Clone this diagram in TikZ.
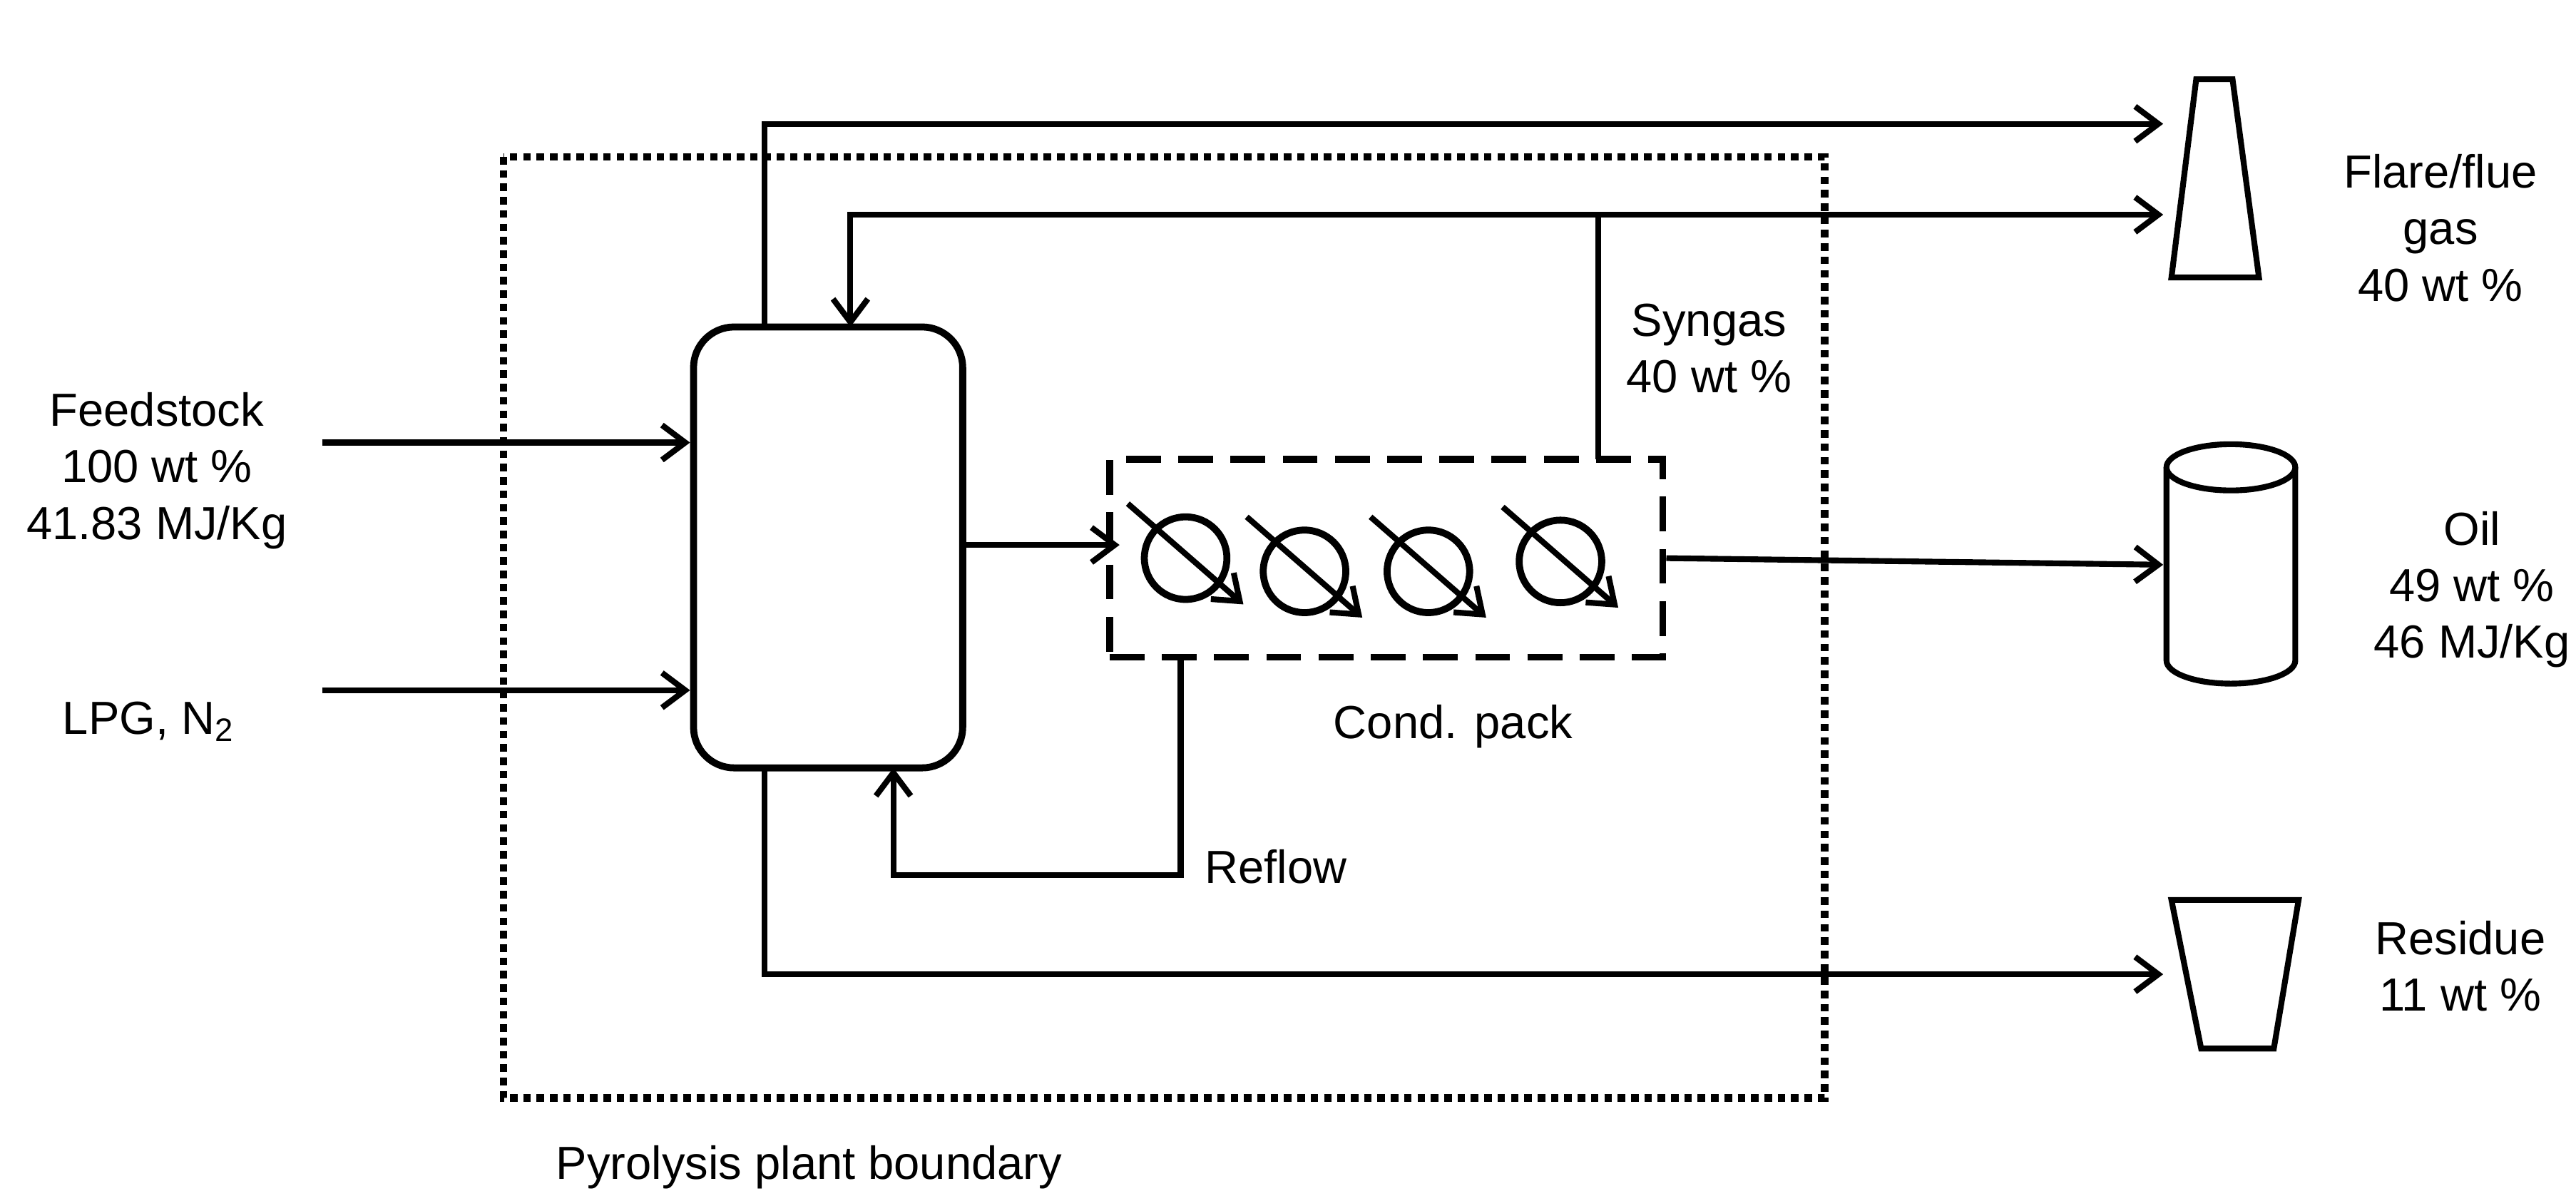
\documentclass[tikz,border=0pt]{standalone}
\usepackage{fontspec}
\setmainfont{Liberation Sans}
\usetikzlibrary{arrows.meta,shapes.geometric}
\begin{document}
\begin{tikzpicture}[x=0.02cm,y=-0.02cm,
  line width=2pt,
  flow/.style={-{Straight Barb[length=8pt,width=12pt,line width=2pt]}},
  lbl/.style={align=center,font=\fontsize{16}{19.5}\selectfont}]
\useasboundingbox (0,0) rectangle (1560,727);
\draw[dotted,line width=2.6pt] (305,95) rectangle (1105,665);
\node[draw,line width=2.4pt,rounded corners=14pt,minimum width=163*0.02cm,minimum height=267*0.02cm,inner sep=0] (R) at (501.5,331.5) {};
\node[draw,dash pattern=on 12pt off 6pt,line width=2.4pt,minimum width=335*0.02cm,minimum height=120*0.02cm,inner sep=0] (C) at (839.5,338) {};
% labels
\node[lbl] (feed) at (95,285) {Feedstock\\100 wt \%\\41.83 MJ/Kg};
\node[lbl] (lpg) at (90,437) {LPG, N\textsubscript{2}};
\node[lbl] (syn) at (1035,211) {Syngas\\40 wt \%};
\node[lbl] (cond) at (880,440) {Cond. pack};
\node[lbl,anchor=west] (refl) at (722,525) {Reflow};
\node[lbl] (flare) at (1478,138) {Flare/flue\\gas\\40 wt \%};
\node[lbl] (oil) at (1497,357) {Oil\\49 wt \%\\46 MJ/Kg};
\node[lbl] (res) at (1490,585) {Residue\\11 wt \%};
\node[lbl] (pb) at (490,707) {Pyrolysis plant boundary};
% equipment
\draw (1330,48) -- (1352,48) -- (1368,168) -- (1315,168) -- cycle;
\draw (1315,545) -- (1392,545) -- (1377,635) -- (1333,635) -- cycle;
\draw (1312,283) -- (1312,400) arc[start angle=180,end angle=0,x radius=39,y radius=14] -- (1390,283);
\draw (1351,283) ellipse[x radius=39,y radius=14];
\coordinate (flareA) at (1310,75);
\coordinate (flareB) at (1310,130);
\coordinate (oilIn) at (1310,342);
\coordinate (resIn) at (1310,590);
% condenser circles
\foreach \i/\cx/\cy in {1/718/338,2/790/346,3/865/346,4/945/340}{
  \node[draw,line width=2.4pt,circle,minimum size=50*0.02cm,inner sep=0] (c\i) at (\cx,\cy) {};
  \draw[flow] (\cx-35,\cy-33) -- (\cx+35,\cy+28);
}
% flows
\draw[flow] (195,268) -- (R.west |- 0,268);
\draw[flow] (195,418) -- (R.west |- 0,418);
\draw[flow] (463,198) -- (463,75) -- (flareA);
\draw[flow] (968,278) -- (968,130) -- (515,130) -- (515,198);
\draw[flow] (968,130) -- (flareB);
\draw[flow] (R.east |- 0,330) -- (678,330);
\draw[flow] (C.east |- 0,338) -- (oilIn);
\draw[flow] (715,398) -- (715,530) -- (541,530) -- (541,465);
\draw[flow] (463,465) -- (463,590) -- (resIn);
\end{tikzpicture}
\end{document}
